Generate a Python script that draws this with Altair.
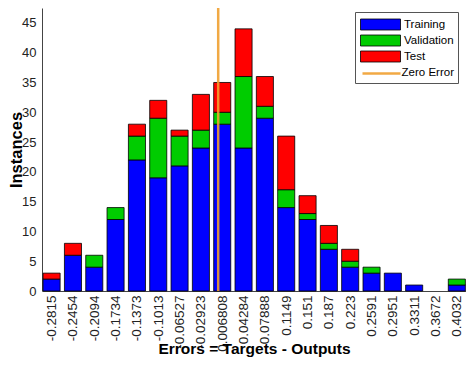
import altair as alt
import pandas as pd

# ---- data ----
centers = [-0.2815, -0.2454, -0.2094, -0.1734, -0.1373, -0.1013, -0.06527, -0.02923,
           0.006808, 0.04284, 0.07888, 0.1149, 0.151, 0.187, 0.223, 0.2591, 0.2951,
           0.3311, 0.3672, 0.4032]
training = [2, 6, 4, 12, 22, 19, 21, 24, 28, 24, 29, 14, 12, 7, 4, 3, 3, 1, 0, 1]
validation = [0, 0, 2, 2, 4, 10, 5, 3, 2, 12, 2, 3, 1, 1, 1, 1, 0, 0, 0, 1]
test = [1, 2, 0, 0, 2, 3, 1, 6, 5, 8, 5, 9, 3, 3, 2, 0, 0, 0, 0, 0]
series = ["Training", "Validation", "Test"]
zero_name = "Zero Error"
zero_value = [0.0]
y_ticks = [0, 5, 10, 15, 20, 25, 30, 35, 40, 45]
x_title = "Errors = Targets - Outputs"
y_title = "Instances"

# ---- styles ----
colors = ["#0000FF", "#00CC00", "#FF0000"]
zero_color = "#F0A030"
FONT = "Liberation Sans"
BAR_FRAC = 0.4
RECT_PATH = "M-1,-0.6875H4V0.6875H-1Z"
LINE_PATH = "M-1,0H3.75"

bw = (centers[-1] - centers[0]) / (len(centers) - 1)
rows = []
for i, c in enumerate(centers):
    base = 0
    for name, vals in zip(series, [training, validation, test]):
        v = vals[i]
        if v > 0:
            rows.append({"x0": c - BAR_FRAC * bw, "x1": c + BAR_FRAC * bw,
                         "y0": base, "y1": base + v, "series": name})
        base += v
df = pd.DataFrame(rows)
zero_df = pd.DataFrame({"x0": zero_value, "name": [zero_name]})

x_scale = alt.Scale(domain=[centers[0] - 0.45 * bw, centers[-1] + 0.43 * bw], nice=False, zero=False)
x_axis = alt.Axis(values=centers, labelAngle=270, ticks=False, grid=False,
                  labelExpr="replace(format(datum.value, '.4~g'), '\u2212', '-')",
                  labelFontSize=13.5, labelPadding=4, labelOverlap=False, labelBound=False,
                  labelFlush=False,
                  labelFont=FONT, labelColor="#222",
                  domainColor="#444", domainWidth=1,
                  titleFont=FONT, titleFontSize=15.5, titleFontWeight="bold",
                  titleColor="black", titleBaseline="alphabetic", titleY=62)

bars = alt.Chart(df).mark_rect(stroke="black", strokeWidth=0.8).encode(
    x=alt.X("x0:Q", scale=x_scale, title=x_title, axis=x_axis),
    x2="x1",
    y=alt.Y("y0:Q", scale=alt.Scale(domain=[0, 47.5], nice=False), title=y_title,
            axis=alt.Axis(values=y_ticks, ticks=False, grid=False,
                          labelFontSize=13, labelPadding=6, labelFont=FONT, labelColor="#222",
                          domainColor="#444", domainWidth=1,
                          titleFont=FONT, titleFontSize=16.5, titleFontWeight="bold",
                          titleColor="black", titleBaseline="alphabetic",
                          titleAngle=270, titleX=-21, titleY=141.5)),
    y2="y1",
    fill=alt.Fill("series:N",
                  scale=alt.Scale(domain=series, range=colors),
                  legend=alt.Legend(
                      orient="none", legendX=313, legendY=4, zindex=0,
                      fillColor="white", strokeColor="#555", padding=4, cornerRadius=0,
                      title=zero_name, titleOrient="bottom", titleAnchor="end",
                      titleFontSize=11.5, titleFontWeight="normal", titleFont=FONT,
                      titleColor="black", titlePadding=3,
                      symbolType=RECT_PATH, symbolSize=256,
                      symbolStrokeColor="black", symbolStrokeWidth=0.8, symbolOffset=1,
                      labelOffset=27, labelFontSize=11.5, labelFont=FONT, labelColor="black",
                      rowPadding=0)),
)

rule = alt.Chart(zero_df).mark_rule(strokeWidth=2.5, opacity=0.9).encode(
    x=alt.X("x0:Q", scale=x_scale, title=x_title, axis=x_axis),
    stroke=alt.Stroke("name:N", title=None,
                      scale=alt.Scale(domain=[zero_name], range=[zero_color]),
                      legend=alt.Legend(
                          orient="none", legendX=318, legendY=56, zindex=1,
                          padding=0, symbolType=LINE_PATH, symbolSize=256,
                          symbolStrokeWidth=2.5, symbolOffset=1,
                          labelExpr="''", labelOffset=27, labelFontSize=11.5,
                          labelFont=FONT, labelColor="black")),
)

chart = alt.layer(bars, rule).properties(
    width=424, height=283,
    padding={"left": 34, "top": 0, "right": 0, "bottom": 66},
    autosize=alt.AutoSizeParams(type="none"),
).configure_view(stroke="transparent")

chart.save("out.html", embed_options={"renderer": "svg", "actions": False})
